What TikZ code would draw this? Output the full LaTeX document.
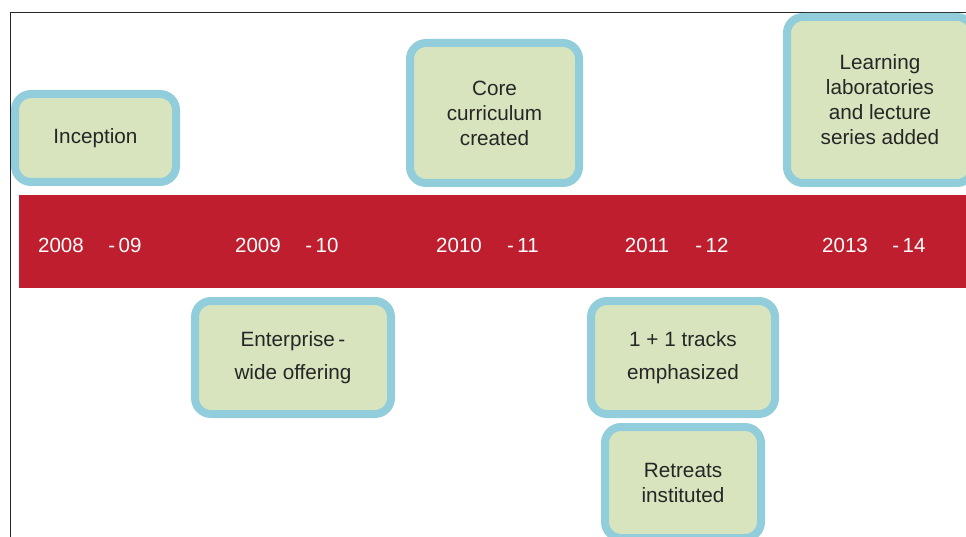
\documentclass[tikz,border=0pt]{standalone}
\usepackage{fontspec}
\setmainfont{Liberation Sans}
\definecolor{barred}{HTML}{BE1E2D}
\definecolor{cardblue}{HTML}{92CDDC}
\definecolor{cardgreen}{HTML}{D7E4BD}
\definecolor{ink}{HTML}{262626}
\begin{document}
\begin{tikzpicture}[x=1pt,y=-1pt,
  card/.style={draw=cardblue, fill=cardgreen, line width=8pt, rounded corners=16pt,
    align=center, text=ink, inner sep=0pt, font=\fontsize{20.7}{25}\selectfont},
  widecard/.style={card, font=\fontsize{20.7}{33}\selectfont},
  yr/.style={text=white, inner sep=0pt, font=\fontsize{20.5}{24}\selectfont},
  frameline/.style={draw=ink, line width=1.3pt}]
\clip (0,0) rectangle (966,537);
\coordinate (fbl) at (10.5,540);
\coordinate (ftl) at (10.5,12.5);
\coordinate (ftr) at (970,12.5);
\draw[frameline] (fbl) -- (ftl) -- (ftr);
\node[fill=barred, inner sep=0pt, minimum width=960pt, minimum height=93pt, anchor=north west] (bar) at (19,195) {};
% year labels
\node[yr] (y08) at (61,245) {2008};
\node[yr] (y09) at (125,245) {-\,09};
\node[yr] (y09b) at (258,245) {2009};
\node[yr] (y10) at (322,245) {-\,10};
\node[yr] (y10b) at (459,245) {2010};
\node[yr] (y11) at (523,245) {-\,11};
\node[yr] (y11b) at (647,245) {2011};
\node[yr] (y12) at (712,245) {-\,12};
\node[yr] (y13) at (845,245) {2013};
\node[yr] (y14) at (909,245) {-\,14};
% cards
\node[card, minimum width=161pt, minimum height=88pt] (inception) at (95.5,138) {Inception};
\node[card, minimum width=169pt, minimum height=140pt] (core) at (494.5,113) {Core\\curriculum\\created};
\node[card, minimum width=186pt, minimum height=166pt] (labs) at (880,100) {Learning\\laboratories\\and lecture\\series added};
\node[widecard, minimum width=196pt, minimum height=113pt] (enterprise) at (293,357.5) {Enterprise\,-\\wide offering};
\node[widecard, minimum width=184pt, minimum height=113pt] (tracks) at (683,357.5) {1 + 1 tracks\\emphasized};
\node[card, minimum width=156pt, minimum height=111pt] (retreats) at (683,482.5) {Retreats\\instituted};
\end{tikzpicture}
\end{document}
